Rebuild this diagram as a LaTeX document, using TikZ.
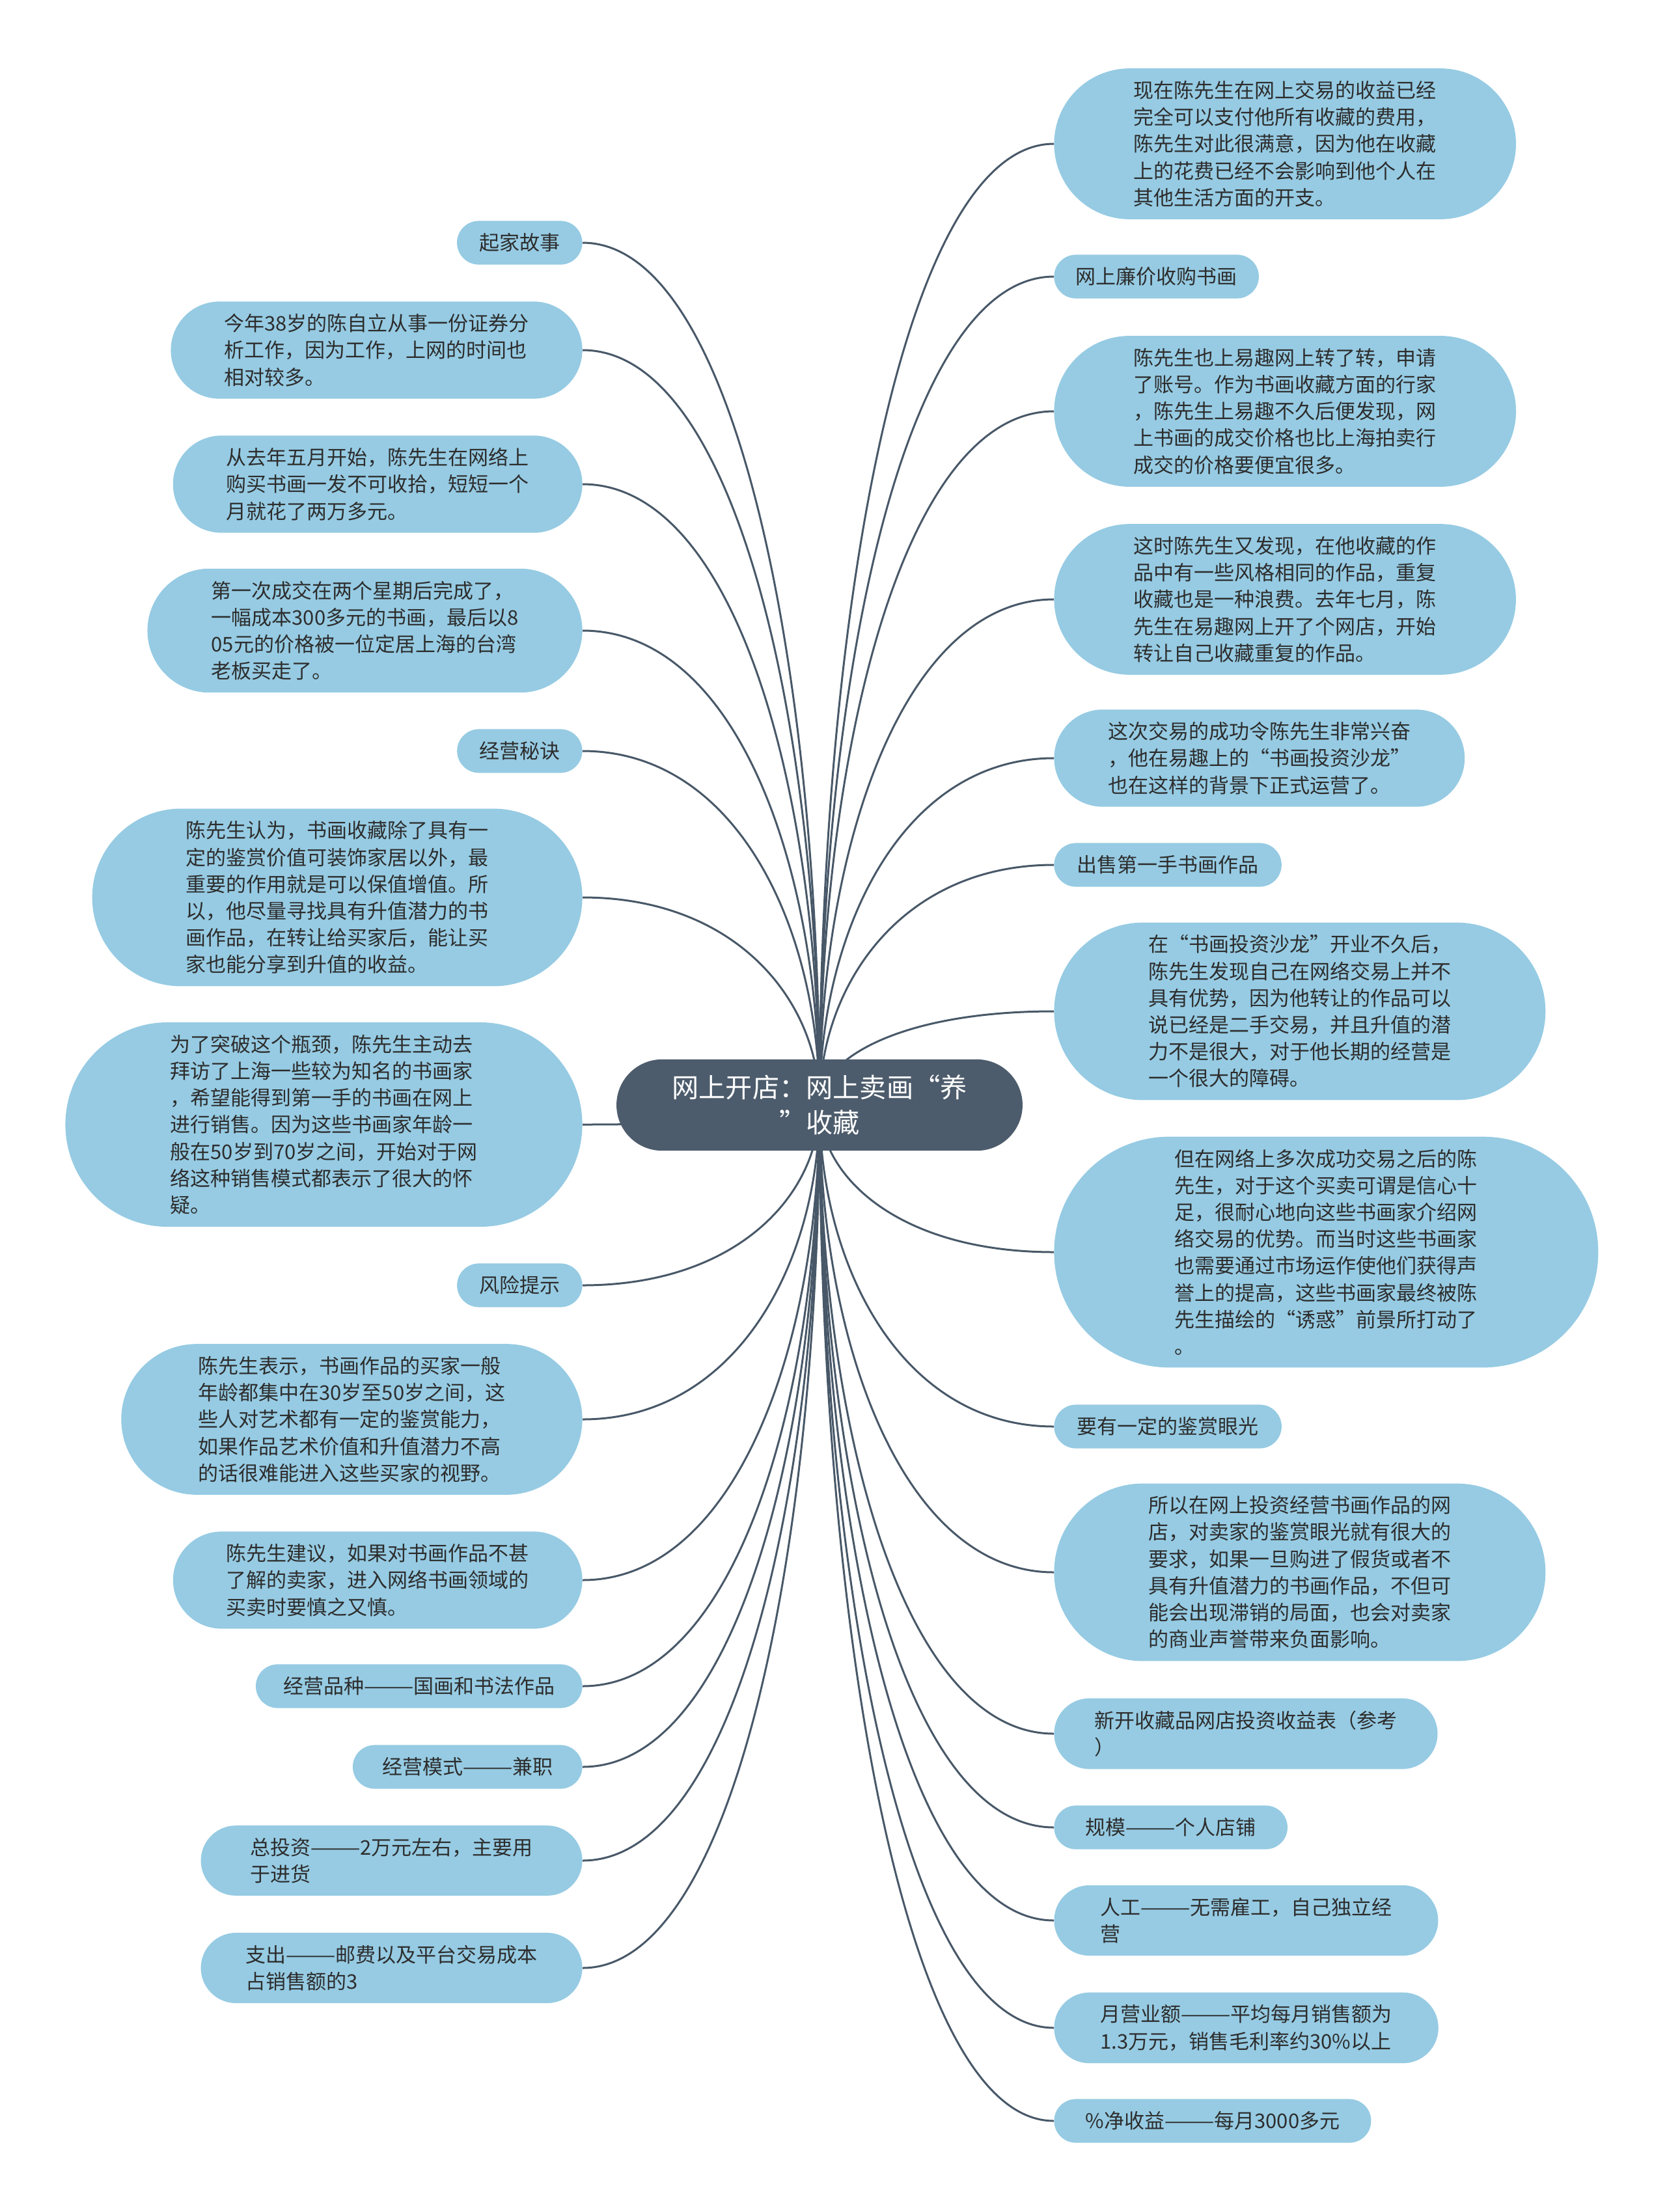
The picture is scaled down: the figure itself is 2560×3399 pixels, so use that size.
\documentclass[tikz,border=0pt]{standalone}
\usepackage{fontspec}
\newfontfamily\cjk{Noto Sans CJK SC}
\usetikzlibrary{calc,shapes.misc,backgrounds}
\definecolor{rootfill}{RGB}{77,92,108}
\definecolor{leaffill}{RGB}{150,203,227}
\definecolor{linkcol}{RGB}{72,88,104}
\definecolor{leaftext}{RGB}{45,45,45}

\begin{document}
\begin{tikzpicture}[x=0.5pt,y=0.5pt,
  root/.style={rounded rectangle,fill=rootfill,text=white,align=center,
    inner xsep=34pt,inner ysep=12pt,font=\cjk\fontsize{20.6pt}{27pt}\selectfont},
  leaf/.style={rounded rectangle,fill=leaffill,text=leaftext,align=left,
    inner xsep=#1,inner ysep=9.5pt,minimum height=33.6pt,
    font=\cjk\fontsize{15.5pt}{20.6pt}\selectfont},
  leaf/.default=15pt,
  lleaf/.style={leaf=#1,anchor=east},
  rleaf/.style={leaf=#1,anchor=west},
  link/.style={draw=linkcol,line width=1.5pt}]
  \useasboundingbox (0,0) rectangle (2560,-3399);
  % centre topic
  \node[root] (root) at (1259,-1698) {网上开店：网上卖画“养\\”收藏};
  % left column: east ends on x=895 (xsep grows with the number of lines)
  \def\lx{895}
  \node[lleaf=15.5pt] (l1) at (\lx,-373) {起家故事};
  \node[lleaf=28.5pt] (l2) at (\lx,-538) {今年38岁的陈自立从事一份证券分\\析工作，因为工作，上网的时间也\\相对较多。};
  \node[lleaf=28.5pt] (l3) at (\lx,-744) {从去年五月开始，陈先生在网络上\\购买书画一发不可收拾，短短一个\\月就花了两万多元。};
  \node[lleaf=30pt] (l4) at (\lx,-969) {第一次成交在两个星期后完成了，\\一幅成本300多元的书画，最后以8\\05元的价格被一位定居上海的台湾\\老板买走了。};
  \node[lleaf=15.5pt] (l5) at (\lx,-1154) {经营秘诀};
  \node[lleaf=38.5pt] (l6) at (\lx,-1379) {陈先生认为，书画收藏除了具有一\\定的鉴赏价值可装饰家居以外，最\\重要的作用就是可以保值增值。所\\以，他尽量寻找具有升值潜力的书\\画作品，在转让给买家后，能让买\\家也能分享到升值的收益。};
  \node[lleaf=39.5pt] (l7) at (\lx,-1728) {为了突破这个瓶颈，陈先生主动去\\拜访了上海一些较为知名的书画家\\，希望能得到第一手的书画在网上\\进行销售。因为这些书画家年龄一\\般在50岁到70岁之间，开始对于网\\络这种销售模式都表示了很大的怀\\疑。};
  \node[lleaf=15.5pt] (l8) at (\lx,-1975) {风险提示};
  \node[lleaf=33pt] (l9) at (\lx,-2181) {陈先生表示，书画作品的买家一般\\年龄都集中在30岁至50岁之间，这\\些人对艺术都有一定的鉴赏能力，\\如果作品艺术价值和升值潜力不高\\的话很难能进入这些买家的视野。};
  \node[lleaf=28.5pt] (l10) at (\lx,-2428) {陈先生建议，如果对书画作品不甚\\了解的卖家，进入网络书画领域的\\买卖时要慎之又慎。};
  \node[lleaf=19.5pt] (l11) at (\lx,-2591) {经营品种———国画和书法作品};
  \node[lleaf=21pt] (l12) at (\lx,-2715) {经营模式———兼职};
  \node[lleaf=31.5pt] (l13) at (\lx,-2859) {总投资———2万元左右，主要用\\于进货};
  \node[lleaf=28pt] (l14) at (\lx,-3024) {支出———邮费以及平台交易成本\\占销售额的3};
  % right column: west ends on x=1619
  \def\rx{1619}
  \node[rleaf=35pt] (r1) at (\rx,-221) {现在陈先生在网上交易的收益已经\\完全可以支付他所有收藏的费用，\\陈先生对此很满意，因为他在收藏\\上的花费已经不会影响到他个人在\\其他生活方面的开支。};
  \node[rleaf=15pt] (r2) at (\rx,-425) {网上廉价收购书画};
  \node[rleaf=35pt] (r3) at (\rx,-632) {陈先生也上易趣网上转了转，申请\\了账号。作为书画收藏方面的行家\\，陈先生上易趣不久后便发现，网\\上书画的成交价格也比上海拍卖行\\成交的价格要便宜很多。};
  \node[rleaf=35pt] (r4) at (\rx,-921) {这时陈先生又发现，在他收藏的作\\品中有一些风格相同的作品，重复\\收藏也是一种浪费。去年七月，陈\\先生在易趣网上开了个网店，开始\\转让自己收藏重复的作品。};
  \node[rleaf=29pt] (r5) at (\rx,-1165) {这次交易的成功令陈先生非常兴奋\\，他在易趣上的“书画投资沙龙”\\也在这样的背景下正式运营了。};
  \node[rleaf=16pt] (r6) at (\rx,-1329) {出售第一手书画作品};
  \node[rleaf=39pt] (r7) at (\rx,-1554) {在“书画投资沙龙”开业不久后，\\陈先生发现自己在网络交易上并不\\具有优势，因为他转让的作品可以\\说已经是二手交易，并且升值的潜\\力不是很大，对于他长期的经营是\\一个很大的障碍。};
  \node[rleaf=44pt] (r8) at (\rx,-1924) {但在网络上多次成功交易之后的陈\\先生，对于这个买卖可谓是信心十\\足，很耐心地向这些书画家介绍网\\络交易的优势。而当时这些书画家\\也需要通过市场运作使他们获得声\\誉上的提高，这些书画家最终被陈\\先生描绘的“诱惑”前景所打动了\\。};
  \node[rleaf=16pt] (r9) at (\rx,-2192) {要有一定的鉴赏眼光};
  \node[rleaf=39pt] (r10) at (\rx,-2416) {所以在网上投资经营书画作品的网\\店，对卖家的鉴赏眼光就有很大的\\要求，如果一旦购进了假货或者不\\具有升值潜力的书画作品，不但可\\能会出现滞销的局面，也会对卖家\\的商业声誉带来负面影响。};
  \node[rleaf=24.5pt] (r11) at (\rx,-2664) {新开收藏品网店投资收益表（参考\\）};
  \node[rleaf=22.5pt] (r12) at (\rx,-2808) {规模———个人店铺};
  \node[rleaf=29pt] (r13) at (\rx,-2951) {人工———无需雇工，自己独立经\\营};
  \node[rleaf=29pt] (r14) at (\rx,-3116) {月营业额———平均每月销售额为\\1.3万元，销售毛利率约30\%以上};
  \node[rleaf=22.5pt] (r15) at (\rx,-3259) {\%净收益———每月3000多元};
  % branches leave the centre vertically and end flat on each leaf
  \begin{scope}[on background layer]
    \foreach \i in {1,...,14}
      \draw[link] (root.center) .. controls ($(root.center)!.5!(root.center|-l\i.east)$)
        and ($(l\i.east)!.65!(l\i.east-|root.center)$) .. (l\i.east);
    \foreach \i in {1,...,15}
      \draw[link] (root.center) .. controls ($(root.center)!.5!(root.center|-r\i.west)$)
        and ($(r\i.west)!.65!(r\i.west-|root.center)$) .. (r\i.west);
  \end{scope}
\end{tikzpicture}
\end{document}
